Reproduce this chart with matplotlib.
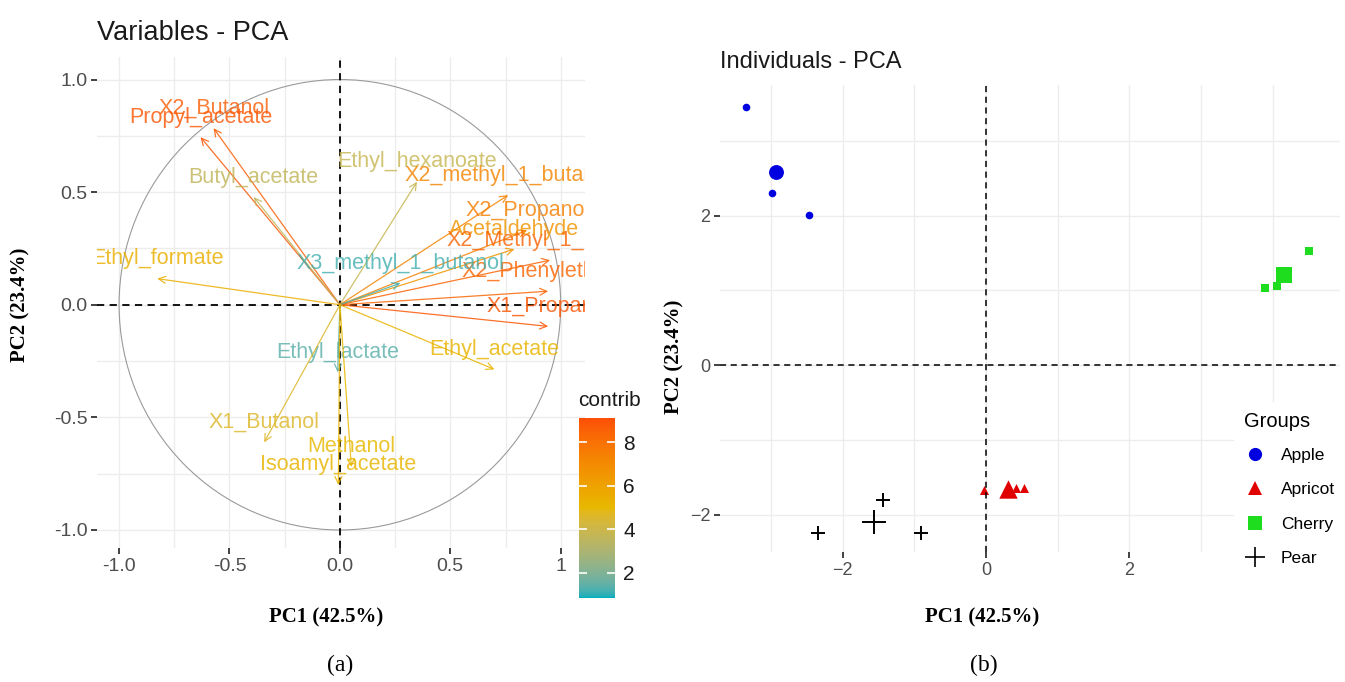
import matplotlib.pyplot as plt
import matplotlib.transforms as mtransforms
import numpy as np
from matplotlib.colors import ListedColormap, Normalize, to_rgb
from matplotlib.cm import ScalarMappable
from matplotlib.lines import Line2D
from matplotlib.patches import Circle

plt.rcParams['font.family'] = ['Liberation Sans', 'DejaVu Sans']

# variable loadings on PC1 / PC2 and their contributions
var_names = ['X2_Butanol', 'Propyl_acetate', 'Butyl_acetate', 'Ethyl_hexanoate',
             'X2_methyl_1_butanol', 'X2_Propanol', 'Acetaldehyde', 'X2_Methyl_1_butanol',
             'X2_Phenylethanol', 'X1_Propanol', 'Ethyl_formate', 'X3_methyl_1_butanol',
             'Ethyl_lactate', 'Ethyl_acetate', 'X1_Butanol', 'Methanol', 'Isoamyl_acetate']
pc1_load = [-0.572, -0.631, -0.39, 0.349, 0.762, 0.848, 0.79, 0.952,
            0.943, 0.943, -0.827, 0.274, -0.01, 0.70, -0.343, 0.052, -0.007]
pc2_load = [0.784, 0.744, 0.478, 0.546, 0.487, 0.331, 0.247, 0.198,
            0.06, -0.096, 0.116, 0.096, -0.30, -0.287, -0.611, -0.72, -0.80]
contrib = [8.6, 8.8, 3.6, 3.8, 7.2, 7.4, 6.6, 8.4,
           8.3, 8.8, 5.4, 1.2, 1.4, 5.2, 4.6, 5.0, 5.2]

# individuals (scores) per group
groups = ['Apple', 'Apricot', 'Cherry', 'Pear']
pc1_ind = {'Apple': [-3.35, -2.98, -2.47], 'Apricot': [-0.03, 0.42, 0.53],
           'Cherry': [3.89, 4.06, 4.51], 'Pear': [-1.43, -2.34, -0.91]}
pc2_ind = {'Apple': [3.46, 2.30, 2.01], 'Apricot': [-1.67, -1.65, -1.64],
           'Cherry': [1.03, 1.06, 1.53], 'Pear': [-1.81, -2.25, -2.25]}
group_colors = {'Apple': '#0000E0', 'Apricot': '#E00000', 'Cherry': '#1EDC1E', 'Pear': '#000000'}
group_markers = {'Apple': 'o', 'Apricot': '^', 'Cherry': 's', 'Pear': '+'}

W, H = 1345, 682
fig = plt.figure(figsize=(W / 100, H / 100), dpi=100)


# gradient interpolated in CIE Lab, like ggplot's scale_colour_gradientn
def _to_lab(c):
    rgb = np.array(to_rgb(c))
    lin = np.where(rgb <= 0.04045, rgb / 12.92, ((rgb + 0.055) / 1.055) ** 2.4)
    M = np.array([[0.4124, 0.3576, 0.1805], [0.2126, 0.7152, 0.0722], [0.0193, 0.1192, 0.9505]])
    xyz = M @ lin / np.array([0.95047, 1.0, 1.08883])
    f = np.where(xyz > 0.008856, np.cbrt(xyz), 7.787 * xyz + 16 / 116)
    return np.array([116 * f[1] - 16, 500 * (f[0] - f[1]), 200 * (f[1] - f[2])])


def _from_lab(lab):
    fy = (lab[0] + 16) / 116
    fx = fy + lab[1] / 500
    fz = fy - lab[2] / 200
    f = np.array([fx, fy, fz])
    xyz = np.where(f ** 3 > 0.008856, f ** 3, (f - 16 / 116) / 7.787) * np.array([0.95047, 1.0, 1.08883])
    Minv = np.array([[3.2406, -1.5372, -0.4986], [-0.9689, 1.8758, 0.0415], [0.0557, -0.2040, 1.0570]])
    lin = Minv @ xyz
    rgb = np.where(lin <= 0.0031308, 12.92 * lin, 1.055 * np.clip(lin, 0, None) ** (1 / 2.4) - 0.055)
    return np.clip(rgb, 0, 1)


stops = [_to_lab(c) for c in ['#00AFBB', '#E7B800', '#FC4E07']]
lut = []
for t in np.linspace(0, 1, 256):
    seg = min(int(t * 2), 1)
    u = t * 2 - seg
    lut.append(_from_lab(stops[seg] * (1 - u) + stops[seg + 1] * u))
cmap = ListedColormap(lut)
norm = Normalize(0.85, 9.1)

grid_c = '#EDEDED'
tick_c = '#4D4D4D'


def style_axes(ax, fs):
    for s in ax.spines.values():
        s.set_visible(False)
    ax.grid(True, which='both', color=grid_c, lw=1.0)
    ax.set_axisbelow(True)
    ax.tick_params(which='major', length=4, width=1.3, color='#333333',
                   labelcolor=tick_c, labelsize=fs, pad=3)
    ax.tick_params(which='minor', length=0)


# ---- (a) variables ----
ax1 = fig.add_axes([97 / W, 1 - 548 / H, (585 - 97) / W, (548 - 57) / H])
ax1.set_xlim(-1.10, 1.11)
ax1.set_ylim(-1.08, 1.10)
ax1.set_xticks([-1.0, -0.5, 0.0, 0.5, 1.0])
ax1.set_xticklabels(['-1.0', '-0.5', '0.0', '0.5', '1'])
ax1.set_yticks([-1.0, -0.5, 0.0, 0.5, 1.0])
ax1.set_yticklabels(['-1.0', '-0.5', '0.0', '0.5', '1.0'])
ax1.set_xticks(np.arange(-1.0, 1.01, 0.25), minor=True)
ax1.set_yticks(np.arange(-1.0, 1.01, 0.25), minor=True)
style_axes(ax1, 14)
ax1.add_patch(Circle((0, 0), 1, fill=False, ec='#9A9A9A', lw=0.8))
ax1.axhline(0, color='black', ls=(0, (4, 3)), lw=1.3)
ax1.axvline(0, color='black', ls=(0, (4, 3)), lw=1.3)

label_tr = mtransforms.offset_copy(ax1.transData, fig=fig, x=0, y=20, units='dots')
for name, x, y, c in zip(var_names, pc1_load, pc2_load, contrib):
    col = cmap(norm(c))
    ax1.annotate('', xy=(x, y), xytext=(0, 0),
                 arrowprops=dict(arrowstyle='->,head_length=0.5,head_width=0.25',
                                 color=col, lw=0.9, shrinkA=0, shrinkB=0, alpha=0.85))
    ax1.text(x, y, name, transform=label_tr, ha='center', va='center',
             fontsize=15.5, color=col, alpha=0.82, clip_on=True)

fig.text(97 / W, 1 - 33 / H, 'Variables - PCA', fontsize=19.5, color='#1A1A1A',
         ha='left', va='center')

# colour bar for contributions
cax = fig.add_axes([579 / W, 1 - 598 / H, 36 / W, 180 / H])
cb = fig.colorbar(ScalarMappable(norm=norm, cmap=cmap), cax=cax, ticks=[2, 4, 6, 8])
cb.outline.set_visible(False)
cax.tick_params(direction='in', length=6, width=1.2, color='white',
                labelsize=15, labelcolor='#1A1A1A', left=True, right=True, pad=6)
fig.text(578 / W, 1 - 400 / H, 'contrib', fontsize=15, color='#1A1A1A',
         ha='left', va='center')

# ---- (b) individuals ----
ax2 = fig.add_axes([720 / W, 1 - 552 / H, (1340 - 720) / W, (552 - 85) / H])
ax2.set_xlim(-3.71, 4.94)
ax2.set_ylim(-2.50, 3.75)
ax2.set_xticks([-2, 0, 2])
ax2.set_xticks([-3, -1, 1, 3, 4], minor=True)
ax2.set_yticks([-2, 0, 2])
ax2.set_yticks([-1, 1, 3], minor=True)
style_axes(ax2, 13)
ax2.axhline(0, color='black', ls=(0, (4, 3)), lw=1.1)
ax2.axvline(0, color='black', ls=(0, (4, 3)), lw=1.1)

small_size = {'o': 30, '^': 42, 's': 38, '+': 110}
big_size = {'o': 115, '^': 175, 's': 135, '+': 300}
for g in groups:
    xs, ys = pc1_ind[g], pc2_ind[g]
    m = group_markers[g]
    kw = dict(color=group_colors[g], marker=m, linewidths=1.4 if m == '+' else 0)
    ax2.scatter(xs, ys, s=small_size[m], **kw)
    ax2.scatter([np.mean(xs)], [np.mean(ys)], s=big_size[m], **kw)

fig.text(720 / W, 1 - 62 / H, 'Individuals - PCA', fontsize=17, color='#1A1A1A',
         ha='left', va='center')

handles = [Line2D([], [], ls='none', marker=group_markers[g], color=group_colors[g],
                  markersize=14 if g == 'Pear' else 9.5, markeredgewidth=1.2 if g == 'Pear' else 0)
           for g in groups]
leg = fig.legend(handles, groups, title='Groups', loc='upper left',
                 bbox_to_anchor=(1234 / W, 1 - 402 / H), frameon=True, fancybox=False,
                 facecolor='white', edgecolor='none', framealpha=1, fontsize=12.5,
                 title_fontsize=14.5, labelspacing=1.1, handlelength=1.2,
                 handletextpad=0.9, borderpad=0.6, borderaxespad=0)
leg._legend_box.align = 'left'
leg._legend_box.sep = 12

# axis titles and panel tags
serif = ['Liberation Serif', 'DejaVu Serif']
for xc in (326, 982):
    fig.text(xc / W, 1 - 617 / H, 'PC1 (42.5%)', fontsize=15, fontweight='bold',
             family=serif, ha='center', va='center')
fig.text(20 / W, 1 - 305 / H, 'PC2 (23.4%)', fontsize=15, fontweight='bold',
         family=serif, ha='center', va='center', rotation=90)
fig.text(674 / W, 1 - 357 / H, 'PC2 (23.4%)', fontsize=15, fontweight='bold',
         family=serif, ha='center', va='center', rotation=90)
fig.text(340 / W, 1 - 665 / H, '(a)', fontsize=17, family=serif, ha='center', va='center')
fig.text(984 / W, 1 - 665 / H, '(b)', fontsize=17, family=serif, ha='center', va='center')

fig.savefig('out.png', dpi=100)
